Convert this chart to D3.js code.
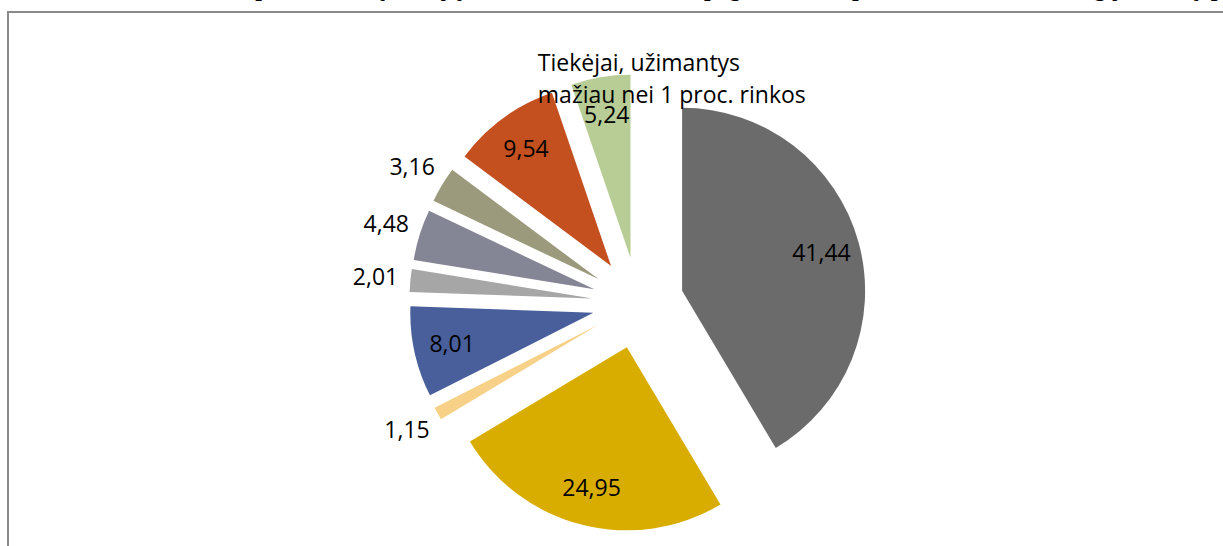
<!DOCTYPE html>
<html>
<head>
<meta charset="utf-8">
<script src="https://cdn.jsdelivr.net/npm/d3@7"></script>
<style>
  html, body { margin: 0; padding: 0; background: #fff; overflow: hidden; }
  svg { display: block; }
</style>
</head>
<body>
<div id="graphic"></div>
<script>
// values, clockwise from 12 o'clock
const shares = [41.44, 24.95, 1.15, 8.01, 2.01, 4.48, 3.16, 9.54, 5.24];
const sliceColors = ["#6b6b6b", "#d9ad00", "#f6d187", "#485f9b", "#a6a6a6", "#848595", "#9c9a7c", "#c4501f", "#b7cd95"];
const namedSlice = 8;
const namedSliceLines = ["Tiekėjai, užimantys", "mažiau nei 1 proc. rinkos"];
const titleText = "Nepriklausomų tiekėjų užimamos rinkos dalis pagal 2013 m. parduotos elektros energijos kiekį, proc.";

const W = 1223, H = 546;
const CX = 638, CY = 303, R = 183;
const EXPLODE = 0.25 * R;
const OUTSIDE_BELOW = 5;

const lt = d3.formatLocale({decimal: ",", thousands: " ", grouping: [3], currency: ["", ""]});
const fmt = lt.format(".2f");

var svg = d3.select("#graphic")
    .append("svg")
    .attr("width", W)
    .attr("height", H)

// title, mostly cut off above the window (only descenders show)
svg.append("text")
    .attr("x", 1263)
    .attr("y", -4)
    .attr("text-anchor", "end")
    .style("font-family", "'Liberation Serif', 'Times New Roman', serif")
    .style("font-weight", "bold")
    .style("font-size", "24px")
    .text(titleText)

// chart area frame
svg.append("rect")
    .attr("x", 8)
    .attr("y", 12)
    .attr("width", W + 50)
    .attr("height", H + 50)
    .attr("fill", "#fff")
    .attr("stroke", "#8a8a8a")
    .attr("stroke-width", 2)

var pie = d3.pie().sort(null).value(d => d)
var arc = d3.arc().innerRadius(0).outerRadius(R)
var arcs = pie(shares)

function dir(d){
    var a = (d.startAngle + d.endAngle) / 2
    return [Math.sin(a), -Math.cos(a)]
}
function labelDist(d){
    return (d.data < OUTSIDE_BELOW) ? R + 35 : R * 0.79
}

var g = svg.append("g")
    .attr("transform", `translate(${CX},${CY})`)

var slice = g.selectAll(".slice")
    .data(arcs)
    .enter()
    .append("g")
    .attr("class", "slice")
    .attr("transform", d => {
        var v = dir(d)
        return `translate(${v[0]*EXPLODE},${v[1]*EXPLODE})`
    })

slice.append("path")
    .attr("d", arc)
    .style("fill", (d,i) => sliceColors[i])

slice.append("text")
    .attr("x", d => dir(d)[0] * labelDist(d))
    .attr("y", d => dir(d)[1] * labelDist(d))
    .attr("text-anchor", "middle")
    .attr("dy", "0.35em")
    .style("font-family", "'Open Sans', sans-serif")
    .style("font-size", "23px")
    .style("fill", "#000")
    .text(d => fmt(d.data))

// category name of the small-suppliers slice, above its value
var named = arcs[namedSlice]
var nv = dir(named)
var nx = nv[0] * R * 0.79, ny = nv[1] * R * 0.79

var nameText = g.append("text")
    .attr("transform", `translate(${nv[0]*EXPLODE},${nv[1]*EXPLODE})`)
    .style("font-family", "'Open Sans', sans-serif")
    .style("font-size", "23px")
    .style("fill", "#000")

nameText.selectAll("tspan")
    .data(namedSliceLines)
    .enter()
    .append("tspan")
    .attr("x", nx - 69)
    .attr("y", (d,i) => ny - 44 + i * 32)
    .text(d => d)
</script>
</body>
</html>
